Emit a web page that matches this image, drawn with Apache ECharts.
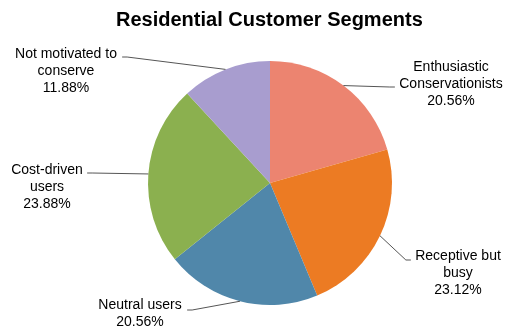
<!DOCTYPE html>
<html><head><meta charset="utf-8">
<script src="https://cdn.jsdelivr.net/npm/echarts@6/dist/echarts.min.js"></script>
<style>html,body{margin:0;padding:0;background:#fff}#c{width:508px;height:331px}</style>
</head><body><div id="c"></div>
<script>
const categories = ['Enthusiastic\nConservationists', 'Receptive but\nbusy', 'Neutral users', 'Cost-driven\nusers', 'Not motivated to\nconserve'];
const values = [20.56, 23.12, 20.56, 23.88, 11.88];
const colors = ['#EC8470', '#EC7B23', '#5087AA', '#8BB04F', '#A89DCF'];
// label text block centres
const labelPos = [[451, 84], [458, 273], [140, 314], [47, 187], [66, 71]];
// where each leader line meets its label
const linePos = [[395, 87], [411, 260], [187, 310], [87, 173], [122, 57]];

const font = 'Liberation Sans, Arial, Helvetica, sans-serif';
const pieData = categories.map((n, i) => ({name: n, value: values[i], itemStyle: {color: colors[i]}}));

const chart = echarts.init(document.getElementById('c'), null, {renderer: 'canvas'});
chart.setOption({
  animation: false,
  title: {
    text: 'Residential Customer Segments', left: 111, top: 5,
    textStyle: {fontFamily: font, fontWeight: 'bold', fontSize: 20, color: '#000'}
  },
  series: [{
    type: 'pie',
    center: [270, 183],
    radius: 122,
    startAngle: 90,
    clockwise: true,
    silent: true,
    data: pieData,
    label: {
      show: true,
      position: 'outside',
      fontFamily: font,
      fontSize: 14,
      lineHeight: 17,
      color: '#000',
      align: 'center',
      overflow: 'none',
      formatter: p => p.name + '\n' + p.value.toFixed(2) + '%'
    },
    labelLine: {show: false},
    labelLayout: p => ({
      x: labelPos[p.dataIndex][0], y: labelPos[p.dataIndex][1],
      align: 'center', verticalAlign: 'middle'
    })
  }, {
    type: 'pie',
    center: [270, 183],
    radius: 122,
    startAngle: 90,
    clockwise: true,
    silent: true,
    z: 3,
    data: categories.map((n, i) => ({name: n, value: values[i]})),
    itemStyle: {color: 'rgba(0,0,0,0)'},
    label: {
      show: true,
      position: 'outside',
      fontSize: 1,
      color: 'rgba(0,0,0,0)',
      overflow: 'none',
      formatter: () => ' '
    },
    labelLine: {show: true, length: 5, length2: 5, lineStyle: {color: '#555', width: 1}},
    labelLayout: p => ({
      x: linePos[p.dataIndex][0], y: linePos[p.dataIndex][1],
      align: 'center', verticalAlign: 'middle'
    })
  }]
});
</script></body></html>
